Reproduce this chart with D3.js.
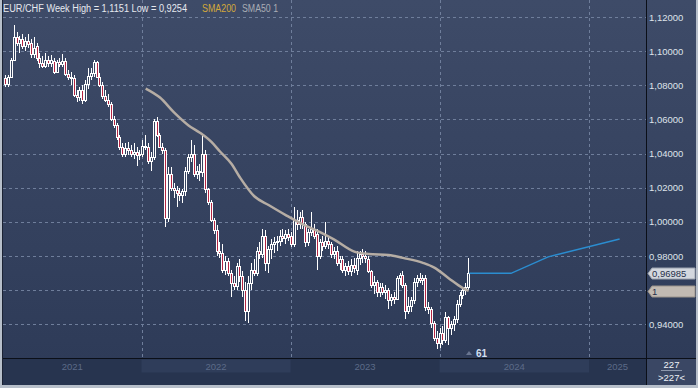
<!DOCTYPE html>
<html>
<head>
<meta charset="utf-8">
<script src="https://cdn.jsdelivr.net/npm/d3@7"></script>
<style>
  body { margin: 0; background: #b7bfca; }
  svg { display: block; font-family: "Liberation Sans", Arial, sans-serif; }
</style>
</head>
<body>
<div id="chart"></div>
<script>
// weekly EUR/CHF candles, first week starting 1 Feb 2021
const firstWeek = new Date(2021, 1, 1);

const weekOpen = [
  1.0840,1.0810,1.0850,1.0950,1.1080,1.1050,1.1070,1.1030,1.1060,1.1050,
  1.0985,1.1030,1.0960,1.0930,1.0915,1.0950,1.0930,1.0945,1.0875,1.0935,
  1.0925,1.0945,1.0865,1.0850,1.0845,1.0745,1.0730,1.0770,1.0715,1.0810,
  1.0855,1.0870,1.0935,1.0850,1.0800,1.0740,1.0715,1.0690,1.0600,1.0570,
  1.0495,1.0440,1.0400,1.0430,1.0420,1.0400,1.0410,1.0390,1.0400,1.0445,
  1.0440,1.0355,1.0380,1.0590,1.0510,1.0440,1.0420,1.0020,1.0280,1.0200,
  1.0185,1.0170,1.0160,1.0180,1.0300,1.0380,1.0400,1.0280,1.0300,1.0290,
  1.0400,1.0190,1.0115,1.0010,0.9950,0.9830,0.9820,0.9720,0.9770,0.9700,
  0.9640,0.9625,0.9740,0.9680,0.9600,0.9480,0.9640,0.9720,0.9700,0.9830,
  0.9810,0.9920,0.9760,0.9840,0.9870,0.9880,0.9890,0.9920,0.9905,0.9930,
  0.9920,0.9870,1.0010,0.9990,1.0030,0.9985,0.9880,0.9940,0.9960,0.9930,
  0.9800,0.9880,0.9860,0.9890,0.9870,0.9810,0.9830,0.9760,0.9780,0.9720,
  0.9740,0.9710,0.9750,0.9720,0.9790,0.9810,0.9800,0.9780,0.9710,0.9630,
  0.9650,0.9590,0.9620,0.9590,0.9600,0.9545,0.9560,0.9550,0.9670,0.9690,
  0.9630,0.9480,0.9510,0.9540,0.9650,0.9670,0.9660,0.9670,0.9500,0.9490,
  0.9410,0.9320,0.9290,0.9350,0.9310,0.9440,0.9380,0.9400,0.9430,0.9520,
  0.9570,0.9600,0.9620
];
const weekHigh = [
  1.0860,1.0860,1.0960,1.1151,1.1110,1.1090,1.1100,1.1080,1.1100,1.1070,
  1.1080,1.1050,1.0990,1.0970,1.0990,1.0970,1.0980,1.0960,1.0950,1.0960,
  1.0985,1.0960,1.0890,1.0875,1.0860,1.0770,1.0790,1.0800,1.0830,1.0900,
  1.0900,1.0950,1.0945,1.0870,1.0820,1.0770,1.0750,1.0700,1.0620,1.0580,
  1.0510,1.0460,1.0460,1.0470,1.0450,1.0460,1.0440,1.0420,1.0480,1.0510,
  1.0460,1.0410,1.0600,1.0615,1.0520,1.0460,1.0430,1.0320,1.0320,1.0230,
  1.0210,1.0200,1.0190,1.0320,1.0400,1.0480,1.0450,1.0330,1.0340,1.0510,
  1.0420,1.0200,1.0130,1.0020,0.9980,0.9880,0.9870,0.9800,0.9790,0.9720,
  0.9680,0.9760,0.9780,0.9710,0.9650,0.9680,0.9760,0.9780,0.9850,0.9880,
  0.9960,0.9950,0.9860,0.9900,0.9910,0.9920,0.9950,0.9960,0.9950,0.9960,
  0.9940,1.0090,1.0070,1.0060,1.0070,1.0000,0.9960,1.0060,0.9990,0.9960,
  0.9900,0.9920,1.0000,0.9920,0.9880,0.9850,0.9860,0.9800,0.9800,0.9760,
  0.9770,0.9780,0.9790,0.9830,0.9830,0.9840,0.9830,0.9800,0.9720,0.9680,
  0.9660,0.9640,0.9640,0.9630,0.9610,0.9580,0.9590,0.9680,0.9700,0.9710,
  0.9640,0.9560,0.9560,0.9670,0.9690,0.9700,0.9690,0.9690,0.9530,0.9500,
  0.9420,0.9360,0.9380,0.9390,0.9470,0.9450,0.9420,0.9450,0.9540,0.9590,
  0.9620,0.9640,0.9790
];
const weekLow = [
  1.0790,1.0790,1.0840,1.0940,1.1030,1.0990,1.1010,1.1000,1.1020,1.0960,
  1.0960,1.0940,1.0900,1.0900,1.0900,1.0910,1.0910,1.0865,1.0870,1.0910,
  1.0905,1.0855,1.0830,1.0800,1.0730,1.0700,1.0710,1.0690,1.0700,1.0780,
  1.0830,1.0850,1.0840,1.0790,1.0720,1.0700,1.0670,1.0590,1.0550,1.0480,
  1.0420,1.0380,1.0380,1.0390,1.0380,1.0370,1.0330,1.0360,1.0380,1.0420,
  1.0340,1.0300,1.0360,1.0500,1.0430,1.0400,0.9970,1.0000,1.0180,1.0140,
  1.0090,1.0120,1.0110,1.0150,1.0280,1.0350,1.0260,1.0250,1.0240,1.0260,
  1.0170,1.0100,1.0000,0.9930,0.9800,0.9790,0.9700,0.9690,0.9680,0.9560,
  0.9600,0.9600,0.9650,0.9560,0.9420,0.9410,0.9600,0.9680,0.9680,0.9780,
  0.9790,0.9710,0.9700,0.9780,0.9820,0.9830,0.9860,0.9880,0.9870,0.9890,
  0.9850,0.9850,0.9950,0.9960,0.9960,0.9850,0.9860,0.9920,0.9900,0.9720,
  0.9780,0.9830,0.9840,0.9840,0.9790,0.9780,0.9740,0.9720,0.9700,0.9680,
  0.9690,0.9680,0.9700,0.9690,0.9750,0.9760,0.9760,0.9700,0.9610,0.9580,
  0.9560,0.9560,0.9570,0.9550,0.9490,0.9510,0.9520,0.9540,0.9630,0.9610,
  0.9430,0.9460,0.9470,0.9520,0.9620,0.9640,0.9630,0.9480,0.9460,0.9380,
  0.9300,0.9254,0.9260,0.9280,0.9290,0.9280,0.9340,0.9360,0.9410,0.9500,
  0.9550,0.9570,0.9600
];
const weekClose = [
  1.0810,1.0850,1.0950,1.1080,1.1050,1.1070,1.1030,1.1060,1.1040,1.0985,
  1.1020,1.0960,1.0930,1.0915,1.0950,1.0930,1.0950,1.0875,1.0935,1.0925,
  1.0945,1.0865,1.0850,1.0845,1.0745,1.0730,1.0770,1.0715,1.0810,1.0855,
  1.0870,1.0935,1.0850,1.0800,1.0740,1.0715,1.0690,1.0600,1.0570,1.0495,
  1.0440,1.0400,1.0430,1.0420,1.0400,1.0410,1.0390,1.0400,1.0445,1.0440,
  1.0355,1.0380,1.0590,1.0510,1.0440,1.0420,1.0020,1.0280,1.0200,1.0185,
  1.0170,1.0160,1.0180,1.0300,1.0380,1.0400,1.0280,1.0300,1.0290,1.0400,
  1.0190,1.0115,1.0010,0.9950,0.9830,0.9820,0.9720,0.9770,0.9700,0.9640,
  0.9625,0.9740,0.9680,0.9600,0.9480,0.9640,0.9720,0.9700,0.9830,0.9810,
  0.9920,0.9760,0.9840,0.9870,0.9880,0.9890,0.9920,0.9905,0.9930,0.9910,
  0.9870,1.0010,0.9990,1.0030,0.9985,0.9880,0.9940,0.9960,0.9920,0.9800,
  0.9880,0.9860,0.9890,0.9870,0.9810,0.9830,0.9760,0.9780,0.9720,0.9740,
  0.9710,0.9750,0.9730,0.9790,0.9810,0.9800,0.9790,0.9710,0.9630,0.9650,
  0.9590,0.9620,0.9590,0.9600,0.9545,0.9560,0.9550,0.9670,0.9690,0.9630,
  0.9480,0.9510,0.9540,0.9650,0.9670,0.9660,0.9670,0.9500,0.9490,0.9410,
  0.9320,0.9290,0.9350,0.9310,0.9440,0.9380,0.9400,0.9430,0.9520,0.9570,
  0.9600,0.9620,0.96985
];

// moving average line, read at a few week indexes
const smaWeek  = [49, 54, 59, 64, 68, 72, 75, 79, 82, 87, 92, 98, 104, 110, 115, 122, 127, 134, 139, 146, 150, 155, 160, 162];
const smaValue = [1.0781, 1.0728, 1.0640, 1.0565, 1.0522, 1.0468, 1.0412, 1.0340, 1.0260, 1.0150, 1.0099, 1.0040,
                  0.9985, 0.9940, 0.9896, 0.9826, 0.9812, 0.9806, 0.9789, 0.9760, 0.9732, 0.9670, 0.9612, 0.9596];

// projection line
const forecastDate  = ["2024-03-14", "2024-06-24", "2024-09-23", "2025-03-17"];
const forecastValue = [0.96985, 0.96985, 0.9795, 0.9900];

const yTicks = [0.94, 0.96, 0.98, 1.00, 1.02, 1.04, 1.06, 1.08, 1.10, 1.12];
const years = [2021, 2022, 2023, 2024, 2025];
const barCount = "61";
const totalBars = "227";

const W = 698, H = 388;
const plot = {left: 3, right: 646, top: 0, bottom: 358};

const comma = (f) => (v) => d3.format(f)(v).replace(".", ",");

const x = d3.scaleTime()
  .domain([new Date(2022, 0, 1), new Date(2025, 0, 1)])
  .range([141.5, 589]);
const y = d3.scaleLinear()
  .domain([0.94, 1.12])
  .range([324.3, 17]);

const candles = weekClose.map((c, i) => ({
  date: d3.timeDay.offset(firstWeek, 7 * i),
  o: weekOpen[i], h: weekHigh[i], l: weekLow[i], c: c
}));

const lastClose = weekClose[weekClose.length - 1];
const lastSma = smaValue[smaValue.length - 1];

const svg = d3.select("#chart").append("svg")
  .attr("width", W).attr("height", H);

const defs = svg.append("defs");
const grad = defs.append("linearGradient").attr("id", "bg")
  .attr("x1", 0).attr("y1", 0).attr("x2", 0).attr("y2", 1);
grad.append("stop").attr("offset", "0%").attr("stop-color", "#3e4b68");
grad.append("stop").attr("offset", "100%").attr("stop-color", "#2d3a57");
defs.append("clipPath").attr("id", "clip")
  .append("rect").attr("x", plot.left).attr("y", plot.top)
  .attr("width", plot.right - plot.left).attr("height", plot.bottom - plot.top);

// frame and backgrounds
svg.append("rect").attr("width", W).attr("height", H).attr("fill", "#b7bfca");
svg.append("rect").attr("x", 2).attr("y", 0).attr("width", 694).attr("height", 385).attr("fill", "url(#bg)");
svg.append("rect").attr("x", 2).attr("y", 358).attr("width", 645).attr("height", 27).attr("fill", "#27344f");
svg.append("rect").attr("x", 647).attr("y", 359).attr("width", 49).attr("height", 26).attr("fill", "#3a4764");

// year bands + labels
years.forEach(function (yr) {
  const x0 = Math.max(x(new Date(yr, 0, 1)), plot.left);
  const x1 = Math.min(x(new Date(yr + 1, 0, 1)), plot.right);
  if (yr % 2 === 0) {
    svg.append("rect").attr("x", x0).attr("y", 359.5).attr("width", x1 - x0).attr("height", 13)
      .attr("fill", "#2f3d5a");
  }
  svg.append("text").attr("x", (x0 + x1) / 2).attr("y", 369.5)
    .attr("text-anchor", "middle").attr("font-size", "9.5px").attr("fill", "#5c6b88")
    .text(yr);
});

// grid
const grid = svg.append("g").attr("stroke", "#6f7e9b").attr("stroke-dasharray", "3,3").attr("stroke-width", 1);
grid.selectAll(".h").data(yTicks).enter().append("line")
  .attr("x1", plot.left).attr("x2", plot.right)
  .attr("y1", d => Math.round(y(d)) + 0.5).attr("y2", d => Math.round(y(d)) + 0.5);
grid.selectAll(".v").data(years.slice(1)).enter().append("line")
  .attr("x1", d => Math.round(x(new Date(d, 0, 1))) + 0.5)
  .attr("x2", d => Math.round(x(new Date(d, 0, 1))) + 0.5)
  .attr("y1", plot.top).attr("y2", plot.bottom);

const chart = svg.append("g").attr("clip-path", "url(#clip)");

// candles
const cg = chart.selectAll(".candle").data(candles).enter().append("g").attr("class", "candle");
cg.append("line")
  .attr("x1", d => Math.round(x(d.date)) + 0.5)
  .attr("x2", d => Math.round(x(d.date)) + 0.5)
  .attr("y1", d => Math.round(y(d.h)))
  .attr("y2", d => Math.round(y(d.l)))
  .attr("stroke", "#ffffff").attr("stroke-width", 1);
cg.append("rect")
  .attr("x", d => Math.round(x(d.date)) - 0.5)
  .attr("y", d => Math.round(y(Math.max(d.o, d.c))) + 0.5)
  .attr("width", 2)
  .attr("height", d => Math.max(1, Math.round(y(Math.min(d.o, d.c))) - Math.round(y(Math.max(d.o, d.c)))))
  .attr("fill", d => d.c < d.o ? "#b42442" : "#36435f")
  .attr("stroke", "#ffffff").attr("stroke-width", 1);

// moving average
const smaLine = d3.line()
  .x(d => x(d3.timeDay.offset(firstWeek, 7 * d[0])) + 0.5)
  .y(d => y(d[1]))
  .curve(d3.curveMonotoneX);
chart.append("path")
  .datum(smaWeek.map((w, i) => [w, smaValue[i]]))
  .attr("d", smaLine)
  .attr("fill", "none").attr("stroke", "#b6ada4").attr("stroke-width", 2.5).attr("stroke-linejoin", "round");

// forecast
const fLine = d3.line().x(d => x(d3.isoParse(d[0]))).y(d => y(d[1]));
chart.append("path")
  .datum(forecastDate.map((dt, i) => [dt, forecastValue[i]]))
  .attr("d", fLine)
  .attr("fill", "none").attr("stroke", "#2b8dd0").attr("stroke-width", 1.5);

// axis lines
svg.append("line").attr("x1", 2).attr("x2", 696).attr("y1", 358.5).attr("y2", 358.5).attr("stroke", "#0b0f18");
svg.append("line").attr("x1", 646.5).attr("x2", 646.5).attr("y1", 0).attr("y2", 385).attr("stroke", "#0b0f18");
svg.append("line").attr("x1", 2.5).attr("x2", 2.5).attr("y1", 0).attr("y2", 385).attr("stroke", "#1b2233");

// right axis labels (a label hidden under a price tag is not drawn)
const tagYs = [y(lastClose), y(lastSma)];
svg.selectAll(".ylab").data(yTicks.filter(v => tagYs.every(t => Math.abs(y(v) - t) > 8))).enter().append("text")
  .attr("x", 649).attr("y", d => y(d) + 3.5)
  .attr("font-size", "9.5px").attr("fill", "#dfe3ea")
  .text(d => comma(".5f")(d));

// price tags
function tag(v, label, fill, stroke) {
  const yc = Math.round(y(v)) + 0.5;
  svg.append("path")
    .attr("d", `M648,${yc} L652,${yc - 5.5} L695,${yc - 5.5} L695,${yc + 5.5} L652,${yc + 5.5} Z`)
    .attr("fill", fill).attr("stroke", stroke).attr("stroke-width", 1);
  svg.append("text").attr("x", 652).attr("y", yc + 3.5)
    .attr("font-size", "9.5px").attr("fill", "#27304a").text(label);
}
tag(lastClose, comma(".5f")(lastClose), "#d3d7de", "#9aa2ae");
tag(lastSma, "1", "#c2bab2", "#9a928a");

// title
const hi = d3.max(weekHigh), lo = d3.min(weekLow);
svg.append("text").attr("x", 3).attr("y", 11.5)
  .attr("font-size", "10px").attr("fill", "#e6e9ef")
  .attr("textLength", 184).attr("lengthAdjust", "spacingAndGlyphs")
  .text(`EUR/CHF Week High = ${comma(".4f")(hi)} Low = ${comma(".4f")(lo)}`);
svg.append("text").attr("x", 202).attr("y", 11.5)
  .attr("font-size", "10px").attr("fill", "#d3a83a")
  .attr("textLength", 34).attr("lengthAdjust", "spacingAndGlyphs")
  .text("SMA200");
svg.append("text").attr("x", 242).attr("y", 11.5)
  .attr("font-size", "10px").attr("fill", "#a9adb5")
  .attr("textLength", 36).attr("lengthAdjust", "spacingAndGlyphs")
  .text("SMA50 1");

// bar count marker
svg.append("path").attr("d", "M466,355 L469,351 L472,355 Z").attr("fill", "#6a7691");
svg.append("text").attr("x", 476).attr("y", 357)
  .attr("font-size", "10px").attr("font-weight", "bold").attr("fill", "#d2dff0")
  .text(barCount);

// bottom-right counter
svg.append("text").attr("x", 671.5).attr("y", 368).attr("text-anchor", "middle")
  .attr("font-size", "9.5px").attr("fill", "#eef1f6").text(totalBars);
svg.append("line").attr("x1", 661).attr("x2", 682).attr("y1", 370.5).attr("y2", 370.5)
  .attr("stroke", "#8d98ad");
svg.append("text").attr("x", 671.5).attr("y", 381).attr("text-anchor", "middle")
  .attr("font-size", "9.5px").attr("fill", "#eef1f6").text(">" + totalBars + "<");
</script>
</body>
</html>
